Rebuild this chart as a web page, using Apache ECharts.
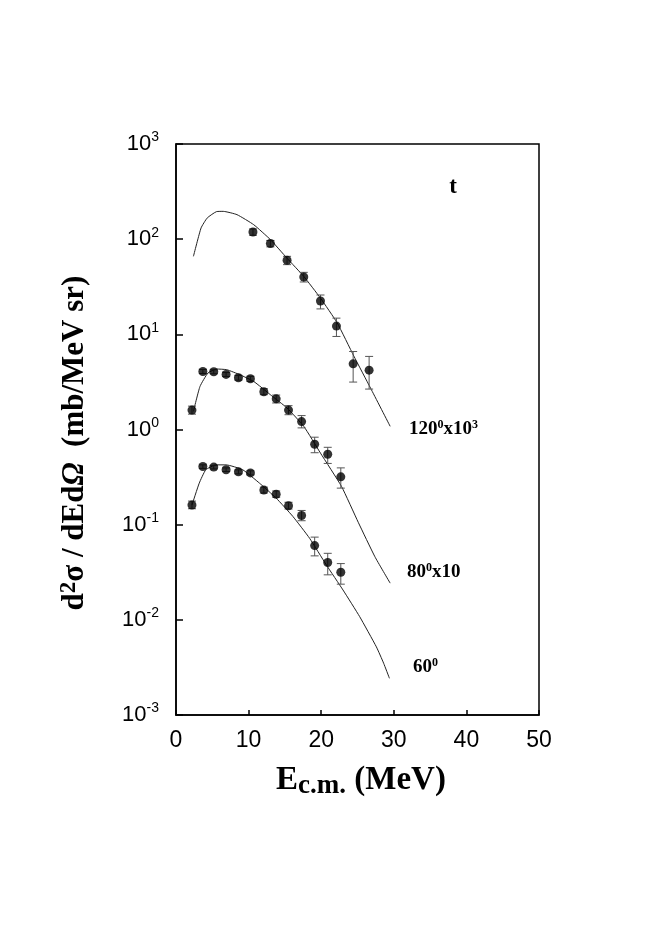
<!DOCTYPE html>
<html><head><meta charset="utf-8">
<script src="https://cdn.jsdelivr.net/npm/echarts@6/dist/echarts.min.js"></script>
<style>html,body{margin:0;padding:0;background:#fff}#c{width:654px;height:941px}</style>
</head><body><div id="c"></div><script>
// ---- data (E in MeV, cross sections in mb/MeV sr) ----
const e120 = [10.6, 13.0, 15.3, 17.6, 19.9, 22.1, 24.4, 26.6];
const y120 = [119, 90, 60, 40, 22.4, 12.2, 4.9, 4.2];
const lo120 = [110, 83, 54, 35.5, 18.5, 9.5, 3.15, 2.66];
const hi120 = [128, 97, 66, 44.8, 25.9, 14.8, 6.6, 5.86];

const e80 = [2.2, 3.7, 5.2, 6.9, 8.6, 10.25, 12.1, 13.8, 15.5, 17.3, 19.1, 20.9, 22.7];
const y80 = [1.60, 4.07, 4.04, 3.79, 3.50, 3.41, 2.49, 2.10, 1.60, 1.21, 0.70, 0.55, 0.318];
const lo80 = [1.45, 3.88, 3.85, 3.6, 3.3, 3.2, 2.32, 1.9, 1.43, 1.04, 0.57, 0.44, 0.242];
const hi80 = [1.76, 4.27, 4.24, 3.98, 3.7, 3.62, 2.68, 2.3, 1.78, 1.4, 0.83, 0.65, 0.395];

const e60 = [2.2, 3.7, 5.2, 6.9, 8.6, 10.25, 12.1, 13.8, 15.5, 17.3, 19.1, 20.9, 22.7];
const y60 = [0.161, 0.408, 0.403, 0.378, 0.359, 0.350, 0.231, 0.209, 0.158, 0.125, 0.0603, 0.0400, 0.0316];
const lo60 = [0.147, 0.39, 0.385, 0.362, 0.342, 0.333, 0.215, 0.194, 0.146, 0.110, 0.047, 0.0297, 0.0237];
const hi60 = [0.177, 0.425, 0.42, 0.395, 0.377, 0.368, 0.248, 0.226, 0.172, 0.141, 0.074, 0.050, 0.039];

const ce120 = [2.4, 3.45, 4.3, 5.6, 6.5, 8.4, 10.7, 13.0, 15.3, 17.6, 19.9, 22.2, 24.5, 26.8, 29.5];
const cy120 = [66, 131, 167, 195, 196, 181, 142, 99, 63, 40.6, 24, 13.2, 5.9, 2.72, 1.08];

const ce80 = [2.4, 3.3, 4.4, 5.6, 7.0, 8.8, 10.7, 13.0, 15.3, 17.6, 19.9, 22.8, 25.1, 27.4, 29.5];
const cy80 = [1.55, 2.83, 3.92, 4.32, 4.25, 3.76, 3.2, 2.32, 1.68, 1.08, 0.565, 0.252, 0.106, 0.046, 0.0243];

const ce60 = [2.2, 3.2, 4.1, 5.5, 6.9, 9.2, 11.5, 13.8, 16.1, 18.4, 20.7, 23.0, 25.3, 27.6, 28.6, 29.4];
const cy60 = [0.161, 0.273, 0.377, 0.425, 0.425, 0.377, 0.273, 0.19, 0.122, 0.072, 0.0378, 0.0206, 0.0108, 0.0052, 0.0035, 0.00243];

const xTicks = [0, 10, 20, 30, 40, 50];
const yExp = [-3, -2, -1, 0, 1, 2, 3];

function zip(a, b) { return a.map((v, i) => [v, b[i]]); }
function zip3(a, b, c) { return a.map((v, i) => [v, b[i], c[i]]); }

function errRender(params, api) {
  const x = api.value(0);
  const lo = api.coord([x, api.value(1)]);
  const hi = api.coord([x, api.value(2)]);
  const w = 4;
  const st = { stroke: '#555', lineWidth: 1, fill: null };
  return {
    type: 'group',
    children: [
      { type: 'line', shape: { x1: lo[0], y1: lo[1], x2: hi[0], y2: hi[1] }, style: st },
      { type: 'line', shape: { x1: lo[0] - w, y1: lo[1], x2: lo[0] + w, y2: lo[1] }, style: st },
      { type: 'line', shape: { x1: hi[0] - w, y1: hi[1], x2: hi[0] + w, y2: hi[1] }, style: st }
    ]
  };
}

const chart = echarts.init(document.getElementById('c'));
const lineSeries = (d) => ({
  type: 'line', data: d, showSymbol: false, smooth: 0.15, silent: true,
  lineStyle: { color: '#222', width: 1 }, z: 2
});
const ptSeries = (d) => ({
  type: 'scatter', data: d, symbol: 'circle', symbolSize: 9,
  itemStyle: { color: '#000' }, z: 4
});
const errSeries = (d) => ({
  type: 'custom', data: d, renderItem: errRender, z: 3, silent: true
});

const serif = '"Liberation Serif", "Times New Roman", serif';
const sans = '"Liberation Sans", Arial, sans-serif';

chart.setOption({
  animation: false,
  backgroundColor: '#fff',
  grid: { left: 176, top: 144, width: 363, height: 571, show: true, borderColor: '#000', borderWidth: 1.5, backgroundColor: 'transparent' },
  xAxis: {
    type: 'value', min: xTicks[0], max: xTicks[xTicks.length - 1], interval: 10,
    axisLine: { show: true, lineStyle: { color: '#000', width: 1.5 } },
    axisTick: { show: true, inside: true, length: 5, lineStyle: { color: '#000', width: 1.5 } },
    splitLine: { show: false },
    axisLabel: { color: '#000', fontSize: 23, fontFamily: sans, margin: 14 }
  },
  yAxis: {
    type: 'log', logBase: 10, min: Math.pow(10, yExp[0]), max: Math.pow(10, yExp[yExp.length - 1]),
    axisLine: { show: true, lineStyle: { color: '#000', width: 1.5 } },
    axisTick: { show: true, inside: true, length: 7, lineStyle: { color: '#000', width: 1.5 } },
    minorTick: { show: false },
    splitLine: { show: false },
    axisLabel: {
      color: '#000', fontSize: 22, fontFamily: sans, margin: 17,
      formatter: (v) => '{b|10}{s|' + Math.round(Math.log10(v)) + '}',
      rich: {
        b: { fontSize: 22, fontFamily: sans, color: '#000', lineHeight: 24 },
        s: { fontSize: 14, fontFamily: sans, color: '#000', padding: [0, 0, 13, 0], lineHeight: 24 }
      }
    }
  },
  graphic: [
    { type: 'text', x: 453, y: 187, style: { text: 't', font: 'bold 23px ' + serif, fill: '#000', textAlign: 'center', textVerticalAlign: 'middle' } },
    { type: 'text', x: 409, y: 429, style: {
      text: '{n|120}{s|0}{n|x10}{s|3}', textVerticalAlign: 'middle', fill: '#000',
      rich: { n: { font: 'bold 19px ' + serif, fill: '#000' }, s: { font: 'bold 12px ' + serif, fill: '#000', padding: [0, 0, 9, 0] } } } },
    { type: 'text', x: 407, y: 572, style: {
      text: '{n|80}{s|0}{n|x10}', textVerticalAlign: 'middle', fill: '#000',
      rich: { n: { font: 'bold 19px ' + serif, fill: '#000' }, s: { font: 'bold 12px ' + serif, fill: '#000', padding: [0, 0, 9, 0] } } } },
    { type: 'text', x: 413, y: 667, style: {
      text: '{n|60}{s|0}', textVerticalAlign: 'middle', fill: '#000',
      rich: { n: { font: 'bold 19px ' + serif, fill: '#000' }, s: { font: 'bold 12px ' + serif, fill: '#000', padding: [0, 0, 9, 0] } } } },
    { type: 'text', x: 361, y: 780, style: {
      text: '{n|E}{c|c.m.}{n| (MeV)}', textAlign: 'center', textVerticalAlign: 'middle', fill: '#000',
      rich: { n: { font: 'bold 33px ' + serif, fill: '#000' }, c: { font: 'bold 27px ' + serif, fill: '#000', padding: [12, 0, 0, 0] } } } },
    { type: 'text', x: 75, y: 443, rotation: Math.PI / 2, style: {
      text: '{n|d}{s|2}{n|σ / dEd}{i|Ω}{n|  (mb/MeV sr)}', textAlign: 'center', textVerticalAlign: 'middle', fill: '#000',
      rich: {
        n: { font: 'bold 31px ' + serif, fill: '#000' },
        i: { font: 'italic bold 31px ' + serif, fill: '#000' },
        s: { font: 'bold 23px ' + serif, fill: '#000', padding: [0, 0, 12, 0] }
      } } }
  ],
  series: [
    lineSeries(zip(ce120, cy120)),
    lineSeries(zip(ce80, cy80)),
    lineSeries(zip(ce60, cy60)),
    errSeries(zip3(e120, lo120, hi120)),
    errSeries(zip3(e80, lo80, hi80)),
    errSeries(zip3(e60, lo60, hi60)),
    ptSeries(zip(e120, y120)),
    ptSeries(zip(e80, y80)),
    ptSeries(zip(e60, y60))
  ]
});
</script></body></html>
